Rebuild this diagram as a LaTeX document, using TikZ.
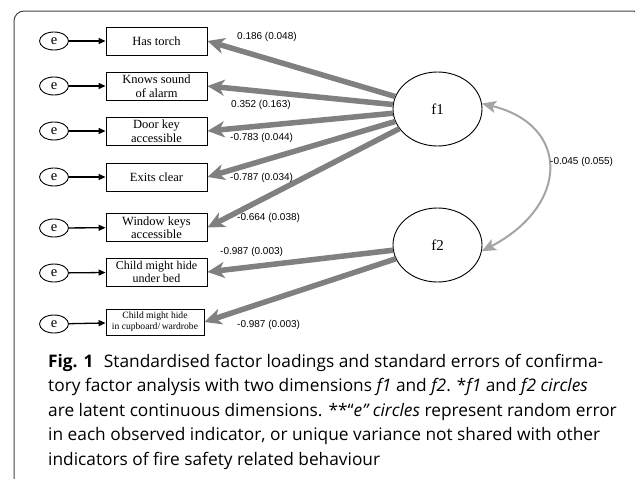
\documentclass[tikz,border=0pt]{standalone}
\usepackage{fontspec}
\setmainfont{Liberation Serif}
\newfontfamily\labfont{Liberation Sans}
\newfontfamily\capfont{Open Sans}
\usetikzlibrary{arrows.meta,calc,shapes.geometric}
\definecolor{loadgray}{RGB}{128,128,128}
\definecolor{corgray}{RGB}{165,165,165}
\definecolor{framegray}{RGB}{70,70,70}
\begin{document}
\begin{tikzpicture}[x=1pt,y=-1pt,
  errnode/.style={ellipse,draw,line width=0.9pt,minimum width=29pt,minimum height=18pt,inner sep=0pt,font=\fontsize{14.5}{15}\selectfont},
  obsbox/.style={rectangle,draw,line width=0.9pt,minimum width=101pt,minimum height=28pt,inner sep=0pt,align=center,font=\fontsize{12.5}{13.5}\selectfont},
  latent/.style={ellipse,draw,line width=0.9pt,minimum width=89pt,minimum height=74pt,inner sep=0pt,font=\fontsize{15}{16}\selectfont},
  errarrow/.style={-{Triangle[length=7pt,width=6pt]},line width=1.3pt,black},
  loadarrow/.style={-{Stealth[length=17pt,width=16pt,inset=5pt]},line width=5.5pt,loadgray},
  corarrow/.style={{Stealth[length=14pt,width=12pt,inset=3pt]}-{Stealth[length=14pt,width=12pt,inset=3pt]},line width=2pt,corgray},
  loadlab/.style={anchor=west,inner sep=0pt,font=\labfont\fontsize{10}{12}\selectfont},
  capline/.style={anchor=base west,inner sep=0pt,font=\capfont\fontsize{17.3}{20}\selectfont}
]
\useasboundingbox (0,0) rectangle (635,479);
\fill[white] (0,0) rectangle (635,479);
\draw[framegray,line width=1pt,rounded corners=10pt] (14,485) -- (14,11) -- (643,11) -- (643,485);

% error terms
\node[errnode] (e1) at (54,41) {e};
\node[errnode] (e2) at (54,86) {e};
\node[errnode] (e3) at (54,131) {e};
\node[errnode] (e4) at (54,177) {e};
\node[errnode] (e5) at (54,228) {e};
\node[errnode] (e6) at (54,273) {e};
\node[errnode] (e7) at (54,324) {e};

% observed indicators
\node[obsbox] (b1) at (156.5,41) {Has torch};
\node[obsbox] (b2) at (156.5,86) {Knows sound\\of alarm};
\node[obsbox] (b3) at (156.5,131) {Door key\\accessible};
\node[obsbox] (b4) at (156.5,177) {Exits clear};
\node[obsbox] (b5) at (156.5,227.5) {Window keys\\accessible};
\node[obsbox,font=\fontsize{12}{13.5}\selectfont] (b6) at (156.5,272) {Child might hide\\under bed};
\node[obsbox,minimum width=98pt,minimum height=26pt,font=\fontsize{9.6}{11}\selectfont] (b7) at (155,322) {Child might hide\\in cupboard/\,wardrobe};

\foreach \i in {1,...,7} {\draw[errarrow] (e\i) -- (b\i);}

% latent factors
\node[latent] (f1) at (437.5,109) {f1};
\node[latent] (f2) at (437.5,245) {f2};

\foreach \i in {1,...,5} {\draw[loadarrow] (f1) -- (b\i.east);}
\foreach \i in {6,7} {\draw[loadarrow] (f2) -- (b\i.east);}

\draw[corarrow] (f1.7) .. controls (570,125) and (570,205) .. (f2.-8);

% loading labels
\node[loadlab] (l1) at (237,37) {0.186 (0.048)};
\node[loadlab] (l2) at (231,105) {0.352 (0.163)};
\node[loadlab] (l3) at (230,138) {-0.783 (0.044)};
\node[loadlab] (l4) at (230,178) {-0.787 (0.034)};
\node[loadlab] (l5) at (237,218) {-0.664 (0.038)};
\node[loadlab] (l6) at (220,252) {-0.987 (0.003)};
\node[loadlab] (l7) at (237,325) {-0.987 (0.003)};
\node[loadlab] (l8) at (550,162) {-0.045 (0.055)};

% caption
\node[capline] (c1) at (48,367) {\textbf{Fig. 1}\hspace{0.6em}Standardised factor loadings and standard errors of confirma-};
\node[capline] (c2) at (48,391.5) {tory factor analysis with two dimensions \textit{f1} and \textit{f2}. *\textit{f1} and \textit{f2 circles}};
\node[capline] (c3) at (48,416) {are latent continuous dimensions. **“\textit{e” circles} represent random error};
\node[capline] (c4) at (48,440.5) {in each observed indicator, or unique variance not shared with other};
\node[capline] (c5) at (48,465) {indicators of fire safety related behaviour};
\end{tikzpicture}
\end{document}
